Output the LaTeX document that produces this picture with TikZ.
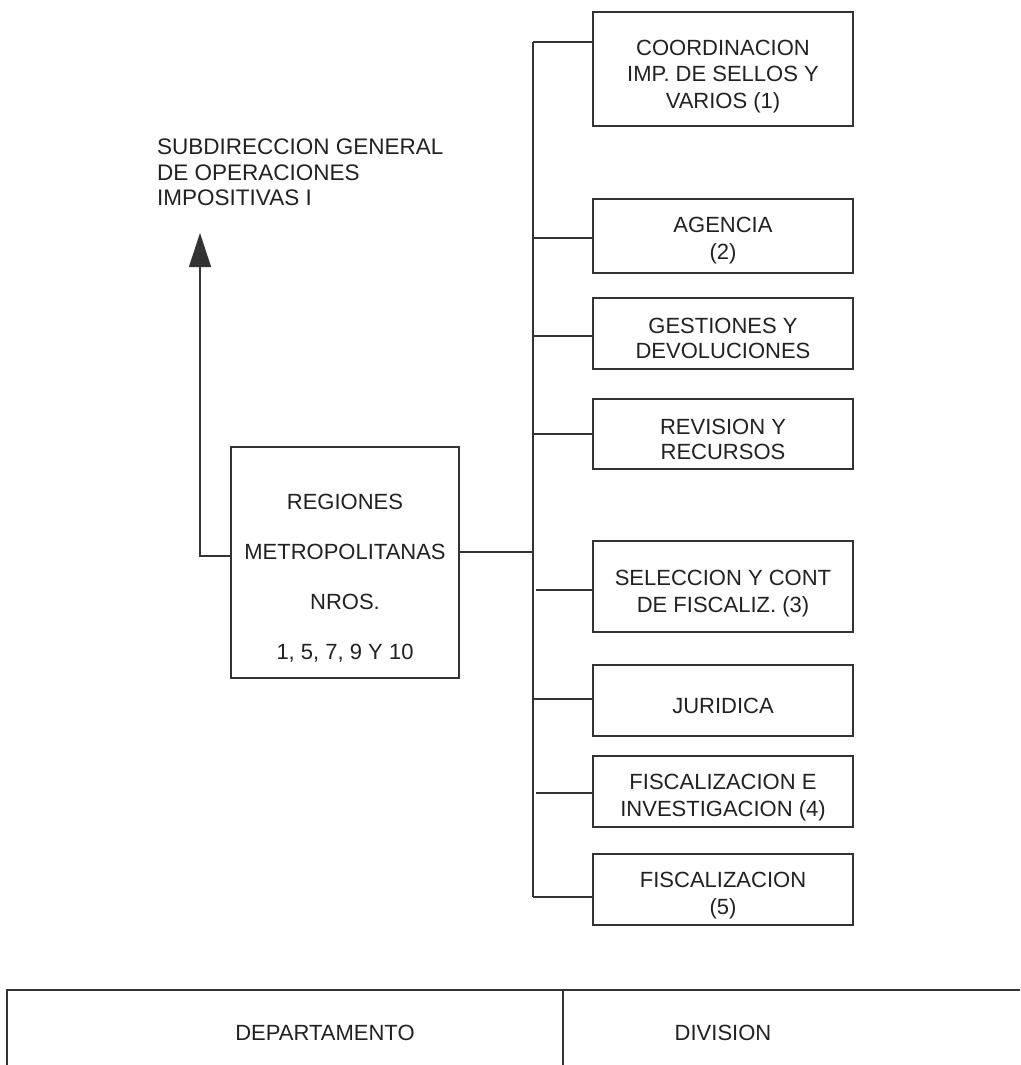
\documentclass[tikz,border=0pt]{standalone}
\usepackage{fontspec}
\setmainfont{Liberation Sans}
\usetikzlibrary{arrows.meta}
\definecolor{ink}{gray}{0.13}
\definecolor{lin}{gray}{0.2}
\newcommand{\lowr}[1]{\rule{0pt}{#1}}
\begin{document}
\begin{tikzpicture}[x=1pt,y=-1pt,
  txt/.style={font=\fontsize{22}{26.5}\selectfont, text=ink, align=center, inner sep=0pt},
  unit/.style={txt, draw=lin, line width=1.2pt, minimum width=260pt},
  conn/.style={draw=lin, line width=1.2pt},
  tbl/.style={draw=lin, line width=1.8pt}]
\useasboundingbox (0,0) rectangle (1020,1065);

% right-hand units
\node[unit, minimum height=114pt] (b1) at (723,69) {\lowr{30pt}COORDINACION\\IMP. DE SELLOS Y\\VARIOS (1)};
\node[unit, minimum height=74pt] (b2) at (723,236) {\lowr{25pt}AGENCIA\\(2)};
\node[unit, minimum height=71pt, font=\fontsize{22}{25}\selectfont] (b3) at (723,333.5) {\lowr{25pt}GESTIONES Y\\DEVOLUCIONES};
\node[unit, minimum height=70pt, font=\fontsize{22}{25}\selectfont] (b4) at (723,434) {\lowr{26pt}REVISION Y\\RECURSOS};
\node[unit, minimum height=91pt] (b5) at (723,586.5) {\lowr{30pt}SELECCION Y CONT\\DE FISCALIZ. (3)};
\node[unit, minimum height=71pt] (b6) at (723,700.5) {\lowr{27pt}JURIDICA};
\node[unit, minimum height=71pt] (b7) at (723,791.5) {\lowr{28pt}FISCALIZACION E\\INVESTIGACION (4)};
\node[unit, minimum height=71pt] (b8) at (723,889.5) {\lowr{28pt}FISCALIZACION\\(5)};

% region box
\node[draw=lin, line width=1.2pt, minimum width=228pt, minimum height=231pt, inner sep=0pt] (reg) at (345,562.5) {};
\node[txt, font=\fontsize{22}{50}\selectfont] (regt) at (345,578) {REGIONES\\METROPOLITANAS\\NROS.\\1, 5, 7, 9 Y 10};

% spine
\coordinate (st) at (533,42);
\coordinate (sb) at (533,897);
\draw[conn] (st) -- (sb);
\coordinate (c2) at (533,238);
\coordinate (c3) at (533,336);
\coordinate (c4) at (533,434);
\coordinate (c5) at (536,590);
\coordinate (c6) at (533,699);
\coordinate (c7) at (536,793);
\draw[conn] (st) -- (st -| b1.west);
\draw[conn] (c2) -- (c2 -| b2.west);
\draw[conn] (c3) -- (c3 -| b3.west);
\draw[conn] (c4) -- (c4 -| b4.west);
\draw[conn] (c5) -- (c5 -| b5.west);
\draw[conn] (c6) -- (c6 -| b6.west);
\draw[conn] (c7) -- (c7 -| b7.west);
\draw[conn] (sb) -- (sb -| b8.west);
\coordinate (cr) at (533,552);
\draw[conn] (reg.east |- cr) -- (cr);

% upward arrow
\coordinate (cl) at (231,556);
\coordinate (up) at (200,233);
\draw[conn, -{Triangle[width=22pt,length=34pt]}] (reg.west |- cl) -| (up);

\node[txt, align=left, anchor=north west, font=\fontsize{22.5}{25.5}\selectfont] (sub) at (157,139) {SUBDIRECCION GENERAL\\DE OPERACIONES\\IMPOSITIVAS I};

% bottom legend table
\coordinate (t1) at (7,1065);
\coordinate (t2) at (7,990);
\coordinate (t3) at (1020,990);
\coordinate (d1) at (563,990);
\coordinate (d2) at (563,1065);
\draw[tbl] (t1) -- (t2) -- (t3);
\draw[tbl] (d1) -- (d2);
\node[txt] (dep) at (325,1033) {DEPARTAMENTO};
\node[txt] (div) at (723,1033) {DIVISION};
\end{tikzpicture}
\end{document}
